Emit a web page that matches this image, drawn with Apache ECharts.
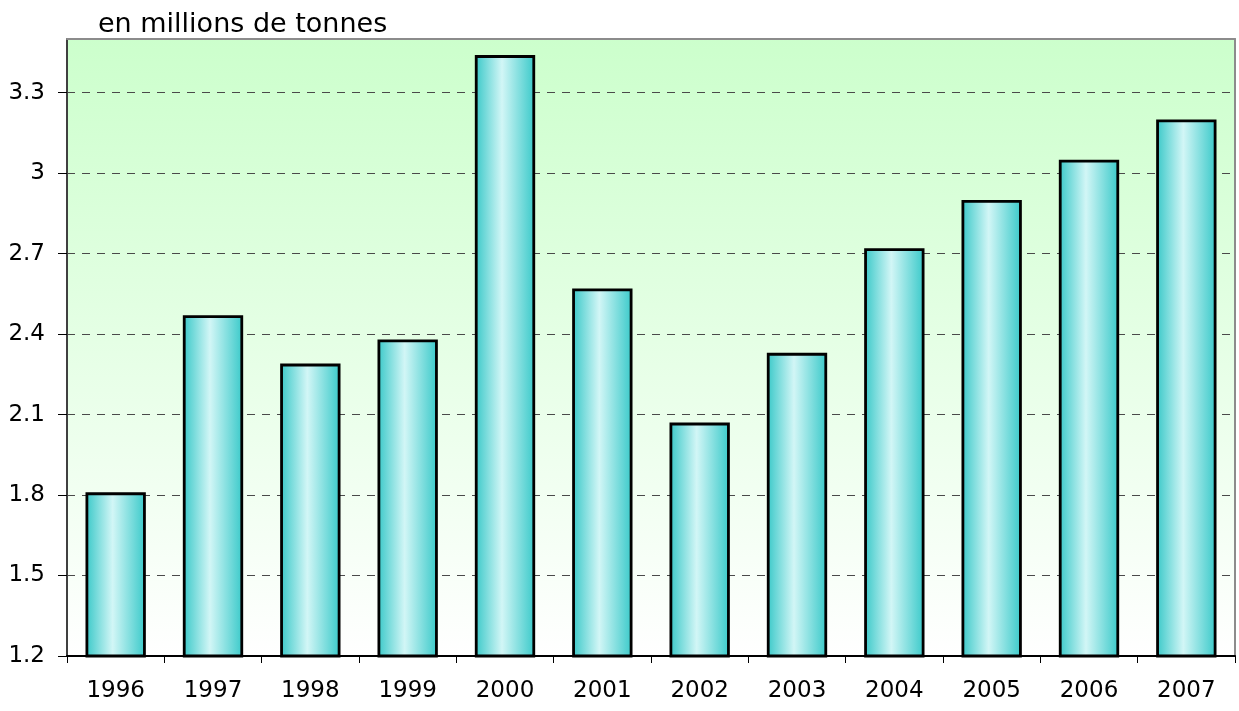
<!DOCTYPE html>
<html>
<head>
<meta charset="utf-8">
<script src="https://cdn.jsdelivr.net/npm/echarts@6/dist/echarts.min.js"></script>
<style>
html,body{margin:0;padding:0;background:#fff;}
#chart{width:1239px;height:711px;}
</style>
</head>
<body>
<div id="chart"></div>
<script>
const years = ['1996','1997','1998','1999','2000','2001','2002','2003','2004','2005','2006','2007'];
const tonnage = [1.81, 2.47, 2.29, 2.38, 3.44, 2.57, 2.07, 2.33, 2.72, 2.90, 3.05, 3.20];
const yMin = 1.2, yMax = 3.5, yStep = 0.3;
const unitLabel = 'en millions de tonnes';

const FONT = '"DejaVu Sans", "Liberation Sans", Arial, sans-serif';
const chart = echarts.init(document.getElementById('chart'), null, {renderer: 'canvas'});
chart.setOption({
  animation: false,
  backgroundColor: '#ffffff',
  title: {
    text: unitLabel,
    left: 93, top: 6,
    textStyle: {fontFamily: FONT, fontSize: 27, fontWeight: 'normal', color: '#000'}
  },
  grid: {
    left: 67, right: 4, top: 39, bottom: 55,
    show: true, borderWidth: 0,
    backgroundColor: new echarts.graphic.LinearGradient(0, 0, 0, 1, [
      {offset: 0, color: '#ccffcc'},
      {offset: 1, color: '#ffffff'}
    ])
  },
  xAxis: [{
    type: 'category', data: years, position: 'bottom',
    axisLine: {show: true, lineStyle: {color: '#000', width: 2}},
    axisTick: {show: true, inside: false, length: 7, alignWithLabel: false, lineStyle: {color: '#000', width: 1}},
    axisLabel: {fontFamily: FONT, fontSize: 23, color: '#000', margin: 24},
    splitLine: {show: false}
  }, {
    type: 'category', data: years, position: 'top',
    axisLine: {show: true, lineStyle: {color: '#8c8c8c', width: 2}},
    axisTick: {show: false}, axisLabel: {show: false}, splitLine: {show: false}
  }],
  yAxis: [{
    type: 'value', min: yMin, max: yMax, interval: yStep, position: 'left',
    axisLine: {show: true, lineStyle: {color: '#404040', width: 2}},
    axisTick: {show: true, inside: false, length: 9, lineStyle: {color: '#000', width: 1}},
    axisLabel: {fontFamily: FONT, fontSize: 23, color: '#000', margin: 22, showMaxLabel: false,
      formatter: v => String(+v.toFixed(1))},
    splitLine: {show: true, lineStyle: {color: '#4a4a4a', width: 1, type: [8, 7]}}
  }, {
    type: 'value', min: yMin, max: yMax, interval: yStep, position: 'right',
    axisLine: {show: true, lineStyle: {color: '#8c8c8c', width: 2}},
    axisTick: {show: false}, axisLabel: {show: false}, splitLine: {show: false}
  }],
  series: [{
    type: 'bar',
    data: tonnage,
    xAxisIndex: 0, yAxisIndex: 0,
    barWidth: '62%',
    itemStyle: {
      color: new echarts.graphic.LinearGradient(0, 0, 1, 0, [
        {offset: 0, color: '#38c8c8'},
        {offset: 0.45, color: '#d2f6f6'},
        {offset: 1, color: '#38c9c9'}
      ]),
      borderColor: '#000',
      borderWidth: 2.8
    }
  }]
});
</script>
</body>
</html>
